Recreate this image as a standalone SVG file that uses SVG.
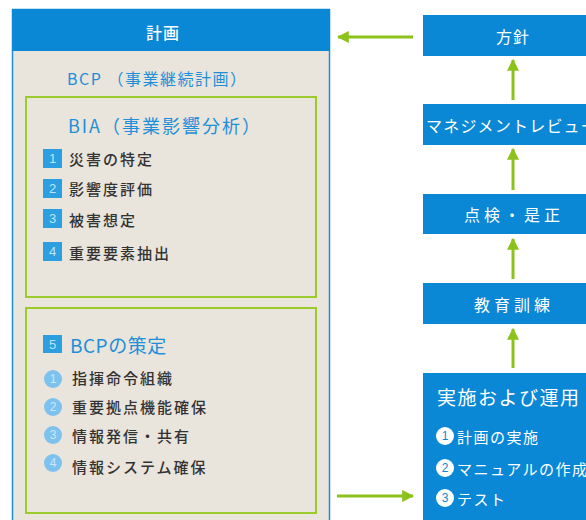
<svg xmlns="http://www.w3.org/2000/svg" width="586" height="520" viewBox="0 0 586 520">
<defs>
<style>
text{font-family:"Noto Sans CJK JP","Noto Sans",sans-serif;dominant-baseline:central}
.w{fill:#fff}
.blue{fill:#1e8fd8}
.dark{fill:#333;font-size:15px;letter-spacing:2px;font-weight:500}
.box{fill:#0a88d6}
.gbox{fill:none;stroke:#9acb2a;stroke-width:2}
.sq{fill:#2b9fe0}
.sqn{fill:#bfe4f8;font-size:13px;font-family:"Liberation Sans",sans-serif;text-anchor:middle}
.lc{fill:#7dc2ee}
.lcn{fill:#c9e7fa;font-size:12px;font-family:"Liberation Sans",sans-serif;text-anchor:middle}
.wc{fill:#fff}
.wcn{fill:#0a88d6;font-size:12px;font-family:"Liberation Sans",sans-serif;text-anchor:middle}
.rt{fill:#fff;font-size:16px;text-anchor:middle}
.conn{stroke:#8cc21c;stroke-width:3;fill:none}
</style>
<marker id="ah" viewBox="0 0 10 10" refX="9" refY="5" markerWidth="4" markerHeight="4" orient="auto" markerUnits="strokeWidth">
<path d="M0,0 L10,5 L0,10 z" fill="#8cc21c"/>
</marker>
</defs>
<rect width="586" height="520" fill="#fff"/>

<g id="plan">
<rect x="12.5" y="9.5" width="317" height="520" fill="#e9e4dc" stroke="#1e8fd8" stroke-width="1.5"/>
<rect x="12" y="9" width="318" height="42" class="box"/>
<text x="163" y="32" class="w" font-size="16" text-anchor="middle" font-weight="500" letter-spacing="1">計画</text>
<text x="67" y="78" class="blue" font-size="16" letter-spacing="1.5">BCP （事業継続計画）</text>
</g>

<g id="bia">
<rect x="26" y="97" width="290" height="200" fill="#fff" class="gbox"/>
<text x="68" y="125" class="blue" font-size="18" letter-spacing="2">BIA（事業影響分析）</text>
<rect x="43" y="149" width="19" height="19" class="sq"/><text x="52.5" y="158.5" class="sqn">1</text>
<text x="69" y="158" class="dark">災害の特定</text>
<rect x="43" y="179" width="19" height="19" class="sq"/><text x="52.5" y="188.5" class="sqn">2</text>
<text x="69" y="188" class="dark">影響度評価</text>
<rect x="43" y="209" width="19" height="19" class="sq"/><text x="52.5" y="218.5" class="sqn">3</text>
<text x="69" y="219" class="dark">被害想定</text>
<rect x="43" y="242" width="19" height="19" class="sq"/><text x="52.5" y="251.5" class="sqn">4</text>
<text x="69" y="252" class="dark">重要要素抽出</text>
</g>

<g id="bcp">
<rect x="26" y="308" width="290" height="205" fill="#e9e4dc" class="gbox"/>
<rect x="43" y="335" width="19" height="18" class="sq"/><text x="52.5" y="344" class="sqn">5</text>
<text x="70" y="344" class="blue" font-size="19" letter-spacing="0.5">BCPの策定</text>
<circle cx="53" cy="379" r="9" class="lc"/><text x="53" y="379" class="lcn">1</text>
<text x="72" y="377" class="dark">指揮命令組織</text>
<circle cx="53" cy="407" r="9" class="lc"/><text x="53" y="407" class="lcn">2</text>
<text x="72" y="406" class="dark">重要拠点機能確保</text>
<circle cx="53" cy="435" r="9" class="lc"/><text x="53" y="435" class="lcn">3</text>
<text x="72" y="435" class="dark">情報発信・共有</text>
<circle cx="53" cy="463" r="9" class="lc"/><text x="53" y="463" class="lcn">4</text>
<text x="72" y="466" class="dark">情報システム確保</text>
</g>

<g id="policy">
<rect x="423" y="15" width="180" height="41" class="box"/>
<text x="513" y="36" class="rt" letter-spacing="1">方針</text>
</g>
<g id="review">
<rect x="423" y="104" width="180" height="41" class="box"/>
<text x="512" y="125" class="rt" font-size="15" letter-spacing="1.2">マネジメントレビュー</text>
</g>
<g id="check">
<rect x="423" y="194" width="180" height="40" class="box"/>
<text x="514" y="214" class="rt" letter-spacing="4">点検・是正</text>
</g>
<g id="training">
<rect x="423" y="283" width="180" height="41" class="box"/>
<text x="514" y="304" class="rt" letter-spacing="4">教育訓練</text>
</g>
<g id="operation">
<rect x="423" y="373" width="180" height="160" class="box"/>
<text x="437" y="396" fill="#fff" font-size="19" letter-spacing="1.5">実施および運用</text>
<circle cx="445" cy="436" r="9" class="wc"/><text x="445" y="436" class="wcn">1</text>
<text x="457" y="436" fill="#fff" font-size="15" letter-spacing="1.5">計画の実施</text>
<circle cx="445" cy="468" r="9" class="wc"/><text x="445" y="468" class="wcn">2</text>
<text x="457" y="468" fill="#fff" font-size="15" letter-spacing="1.5">マニュアルの作成</text>
<circle cx="445" cy="498" r="9" class="wc"/><text x="445" y="498" class="wcn">3</text>
<text x="457" y="498" fill="#fff" font-size="15" letter-spacing="1.5">テスト</text>
</g>

<g id="connectors">
<line x1="413" y1="37" x2="338" y2="37" class="conn" marker-end="url(#ah)"/>
<line x1="513" y1="100" x2="513" y2="60" class="conn" marker-end="url(#ah)"/>
<line x1="513" y1="190" x2="513" y2="149" class="conn" marker-end="url(#ah)"/>
<line x1="513" y1="279" x2="513" y2="239" class="conn" marker-end="url(#ah)"/>
<line x1="513" y1="368" x2="513" y2="329" class="conn" marker-end="url(#ah)"/>
<line x1="337" y1="496" x2="413" y2="496" class="conn" marker-end="url(#ah)"/>
</g>
</svg>
